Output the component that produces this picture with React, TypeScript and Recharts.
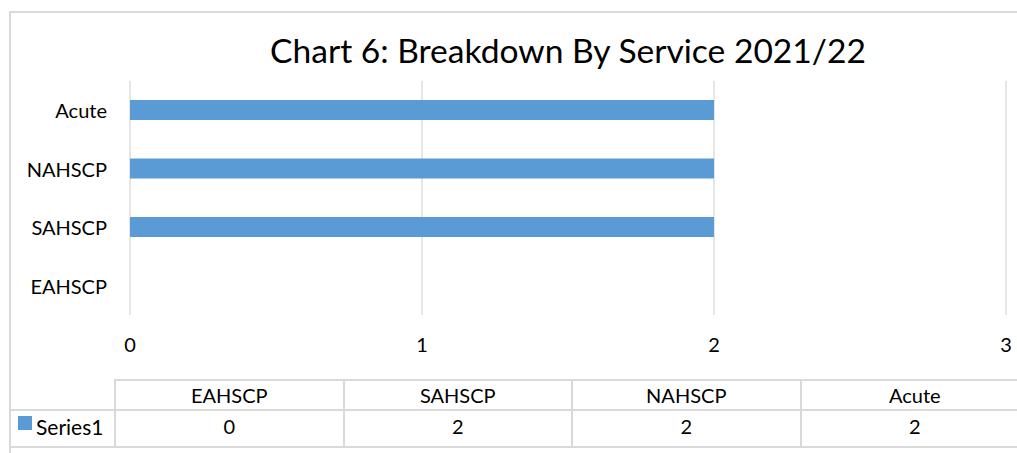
import React from "react";
import { BarChart, Bar, XAxis, YAxis, CartesianGrid } from "recharts";

const categories = ["EAHSCP", "SAHSCP", "NAHSCP", "Acute"];
const series1Values = [0, 2, 2, 2];
const xTicks = [0, 1, 2, 3];
const seriesName = "Series1";
const title = "Chart 6: Breakdown By Service 2021/22";

const data = categories.map((c, i) => ({ name: c, value: series1Values[i] }));

const FONT = "Lato, 'Open Sans', sans-serif";
const GRID = "#D9D9D9";
const BAR = "#5B9BD5";

const XTick = (props: any) => {
  const { x, y, payload } = props;
  return (
    <text x={x} y={y + 29} textAnchor="middle" dominantBaseline="central" fontFamily={FONT} fontSize={20} fill="#000">
      {payload.value}
    </text>
  );
};

const YTick = (props: any) => {
  const { x, y, payload } = props;
  return (
    <text x={x - 23} y={y} textAnchor="end" dominantBaseline="central" fontFamily={FONT} fontSize={20} fill="#000">
      {payload.value}
    </text>
  );
};

const TABLE_LEFT = 115;
const TABLE_RIGHT = 1029;
const COL_W = (TABLE_RIGHT - TABLE_LEFT) / categories.length;
const ROW1_TOP = 379;
const ROW2_TOP = 409;
const ROW2_BOTTOM = 446;

export default function App() {
  const line = (style: React.CSSProperties, key: string) => (
    <div key={key} style={{ position: "absolute", background: GRID, ...style }} />
  );
  return (
    <div
      style={{
        position: "absolute",
        left: 0,
        top: 0,
        width: 1017,
        height: 453,
        overflow: "hidden",
        background: "#fff",
        fontFamily: FONT,
        color: "#000",
      }}
    >
      {/* chart outer border */}
      {line({ left: 9, top: 11, width: 2, height: 442 }, "bl")}
      {line({ left: 9, top: 11, width: 1008, height: 2 }, "bt")}

      <div
        style={{
          position: "absolute",
          left: 0,
          width: 1136,
          top: 28,
          height: 44,
          textAlign: "center",
          fontSize: 33.6,
          lineHeight: "44px",
          whiteSpace: "nowrap",
        }}
      >
        {title}
      </div>

      <div style={{ position: "absolute", left: 0, top: 0 }}>
        <BarChart
          width={1017}
          height={453}
          data={data}
          layout="vertical"
          margin={{ top: 81, right: 11, bottom: 98, left: 0 }}
          barCategoryGap={0}
        >
          <CartesianGrid horizontal={false} vertical={true} stroke={GRID} strokeWidth={1.3} />
          <XAxis
            type="number"
            domain={[0, 3]}
            ticks={xTicks}
            axisLine={false}
            tickLine={false}
            tickSize={0}
            tickMargin={0}
            height={40}
            interval={0}
            tick={<XTick />}
          />
          <YAxis
            type="category"
            dataKey="name"
            reversed
            width={130}
            axisLine={false}
            tickLine={false}
            tickSize={0}
            tickMargin={0}
            interval={0}
            tick={<YTick />}
          />
          <Bar dataKey="value" fill={BAR} barSize={20} isAnimationActive={false} />
        </BarChart>
      </div>

      {/* data table */}
      {line({ left: TABLE_LEFT, top: ROW1_TOP, width: 1017 - TABLE_LEFT, height: 2 }, "t1")}
      {line({ left: 9, top: ROW2_TOP, width: 1008, height: 2 }, "t2")}
      {line({ left: 9, top: ROW2_BOTTOM, width: 1008, height: 2 }, "t3")}
      {categories.map((_, i) =>
        line({ left: TABLE_LEFT + i * COL_W - 1, top: ROW1_TOP, width: 2, height: ROW2_BOTTOM - ROW1_TOP + 2 }, "v" + i)
      )}
      {categories.map((c, i) => (
        <div
          key={"h" + c}
          style={{
            position: "absolute",
            left: TABLE_LEFT + i * COL_W,
            width: COL_W,
            top: ROW1_TOP + 2,
            height: ROW2_TOP - ROW1_TOP - 2,
            lineHeight: `${ROW2_TOP - ROW1_TOP - 2}px`,
            textAlign: "center",
            fontSize: 20,
          }}
        >
          {c}
        </div>
      ))}
      {series1Values.map((v, i) => (
        <div
          key={"d" + i}
          style={{
            position: "absolute",
            left: TABLE_LEFT + i * COL_W,
            width: COL_W,
            top: ROW2_TOP,
            height: ROW2_BOTTOM - ROW2_TOP - 2,
            lineHeight: `${ROW2_BOTTOM - ROW2_TOP - 2}px`,
            textAlign: "center",
            fontSize: 20,
          }}
        >
          {v}
        </div>
      ))}
      <div style={{ position: "absolute", left: 18, top: 416, width: 14, height: 14, background: BAR }} />
      <div
        style={{
          position: "absolute",
          left: 36,
          top: ROW2_TOP,
          height: ROW2_BOTTOM - ROW2_TOP - 2,
          lineHeight: `${ROW2_BOTTOM - ROW2_TOP - 2}px`,
          fontSize: 21,
        }}
      >
        {seriesName}
      </div>
    </div>
  );
}
